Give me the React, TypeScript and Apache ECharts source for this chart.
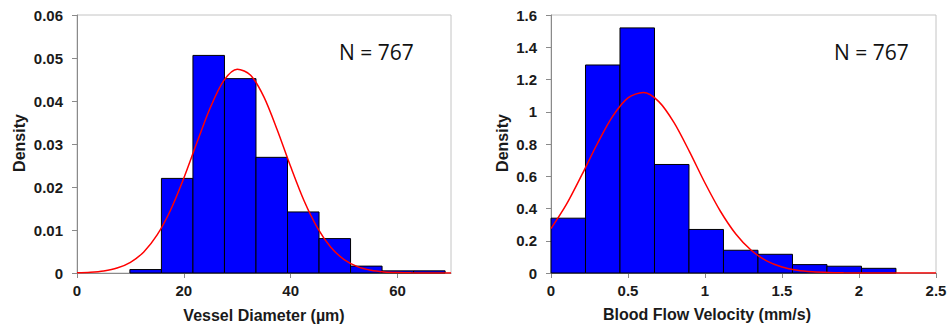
import React, { useEffect, useRef } from "react";
import * as echarts from "echarts";

// Left histogram: vessel diameter (µm)
const diamEdges = [9.9, 15.8, 21.7, 27.6, 33.5, 39.4, 45.3, 51.2, 57.1, 63.0, 68.9];
const diamDensity = [0.0008, 0.022, 0.0506, 0.0452, 0.0269, 0.0142, 0.008, 0.0016, 0.0005, 0.0005];
const diamCurveX = [0, 2.5, 5, 7.5, 10, 12.5, 15, 17.5, 20, 22.5, 25, 27.5, 30, 32.5, 35, 37.5, 40, 42.5, 45, 47.5, 50, 52.5, 55, 57.5, 60, 62.5, 65, 67.5, 70];
const diamCurveY = [0.00007, 0.00019, 0.00049, 0.00115, 0.00249, 0.0049, 0.00885, 0.0146, 0.0221, 0.0305, 0.0386, 0.0448, 0.0474, 0.046, 0.0409, 0.0332, 0.0247, 0.0168, 0.0105, 0.006, 0.00313, 0.00149, 0.00065, 0.00026, 0.0001, 0.00003, 0.00001, 0, 0];

// Right histogram: blood flow velocity (mm/s)
const velEdges = [0, 0.224, 0.448, 0.672, 0.896, 1.12, 1.344, 1.568, 1.792, 2.016, 2.24];
const velDensity = [0.34, 1.29, 1.52, 0.673, 0.27, 0.141, 0.116, 0.052, 0.042, 0.029];
const velCurveX = [0, 0.1, 0.2, 0.3, 0.4, 0.5, 0.6, 0.7, 0.8, 0.9, 1.0, 1.1, 1.2, 1.3, 1.4, 1.5, 1.6, 1.7, 1.8, 1.9, 2.0, 2.1, 2.2, 2.3, 2.4, 2.5];
const velCurveY = [0.275, 0.425, 0.608, 0.8, 0.971, 1.086, 1.119, 1.063, 0.931, 0.751, 0.558, 0.383, 0.242, 0.141, 0.0754, 0.0373, 0.017, 0.0071, 0.0028, 0.001, 0.0003, 0.0001, 0, 0, 0, 0];

const countLabel = "N = 767";
const yName = "Density";
const leftXName = "Vessel Diameter (µm)";
const rightXName = "Blood Flow Velocity (mm/s)";

const tickFont = { fontFamily: "Liberation Sans, Arial, sans-serif", fontWeight: "bold" as const, fontSize: 15, color: "#1a1a1a" };

function bins(edges: number[], dens: number[]) {
  return dens.map((d, i) => [edges[i], edges[i + 1], d]);
}

function renderBar(params: any, api: any) {
  const s = api.coord([api.value(0), 0]);
  const e = api.coord([api.value(1), api.value(2)]);
  return {
    type: "rect",
    shape: { x: s[0], y: e[1], width: e[0] - s[0], height: s[1] - e[1] },
    style: { fill: "#0000ff", stroke: "#000000", lineWidth: 1 },
  };
}

function axisX(gridIndex: number, max: number, interval: number) {
  return {
    type: "value",
    gridIndex,
    min: 0,
    max,
    interval,
    axisLine: { show: true, lineStyle: { color: "#8a8a8a", width: 1 } },
    axisTick: { show: true, length: 5, inside: false, lineStyle: { color: "#8a8a8a" } },
    axisLabel: { ...tickFont, margin: 10, showMaxLabel: max % interval === 0 },
    splitLine: { show: false },
  };
}

function axisY(gridIndex: number, max: number, interval: number) {
  return {
    type: "value",
    gridIndex,
    min: 0,
    max,
    interval,
    axisLine: { show: true, lineStyle: { color: "#8a8a8a", width: 1 } },
    axisTick: { show: true, length: 5, inside: false, lineStyle: { color: "#8a8a8a" } },
    axisLabel: { ...tickFont, margin: 14 },
    splitLine: { show: false },
  };
}

export default function App() {
  const ref = useRef<HTMLDivElement>(null);
  useEffect(() => {
    if (!ref.current) return;
    const chart = echarts.init(ref.current, null, { renderer: "svg" });
    const nameStyle = { fontFamily: "Liberation Sans, Arial, sans-serif", fontWeight: "bold", fontSize: 16, fill: "#1a1a1a" };
    const nStyle = { fontFamily: "Open Sans, Noto Sans, sans-serif", fontSize: 21, fill: "#111111" };
    chart.setOption({
      animation: false,
      backgroundColor: "#ffffff",
      grid: [
        { left: 77, top: 15, width: 374, height: 258, show: true, borderColor: "#c4c4c4", borderWidth: 1, containLabel: false },
        { left: 551, top: 15, width: 385, height: 258, show: true, borderColor: "#c4c4c4", borderWidth: 1, containLabel: false },
      ],
      xAxis: [axisX(0, 70, 20), axisX(1, 2.5, 0.5)],
      yAxis: [axisY(0, 0.06, 0.01), axisY(1, 1.6, 0.2)],
      series: [
        {
          type: "custom",
          xAxisIndex: 0,
          yAxisIndex: 0,
          renderItem: renderBar,
          encode: { x: [0, 1], y: 2 },
          data: bins(diamEdges, diamDensity),
          z: 2,
        },
        {
          type: "line",
          xAxisIndex: 0,
          yAxisIndex: 0,
          data: diamCurveX.map((x, i) => [x, diamCurveY[i]]),
          smooth: 0.3,
          symbol: "none",
          lineStyle: { color: "#ff0000", width: 1.5 },
          z: 3,
        },
        {
          type: "custom",
          xAxisIndex: 1,
          yAxisIndex: 1,
          renderItem: renderBar,
          encode: { x: [0, 1], y: 2 },
          data: bins(velEdges, velDensity),
          z: 2,
        },
        {
          type: "line",
          xAxisIndex: 1,
          yAxisIndex: 1,
          data: velCurveX.map((x, i) => [x, velCurveY[i]]),
          smooth: 0.3,
          symbol: "none",
          lineStyle: { color: "#ff0000", width: 1.5 },
          z: 3,
        },
      ],
      graphic: [
        { type: "text", x: 19, y: 143, rotation: Math.PI / 2, style: { ...nameStyle, text: yName, textAlign: "center", textVerticalAlign: "middle" } },
        { type: "text", x: 502, y: 143, rotation: Math.PI / 2, style: { ...nameStyle, text: yName, textAlign: "center", textVerticalAlign: "middle" } },
        { type: "text", x: 264, y: 315, style: { ...nameStyle, text: leftXName, textAlign: "center", textVerticalAlign: "middle" } },
        { type: "text", x: 707, y: 314, style: { ...nameStyle, text: rightXName, textAlign: "center", textVerticalAlign: "middle" } },
        { type: "text", x: 339, y: 52, style: { ...nStyle, text: countLabel, textAlign: "left", textVerticalAlign: "middle" } },
        { type: "text", x: 834, y: 52, style: { ...nStyle, text: countLabel, textAlign: "left", textVerticalAlign: "middle" } },
      ],
    });
    return () => chart.dispose();
  }, []);
  return <div ref={ref} style={{ position: "fixed", left: 0, top: 0, width: 952, height: 329 }} />;
}
